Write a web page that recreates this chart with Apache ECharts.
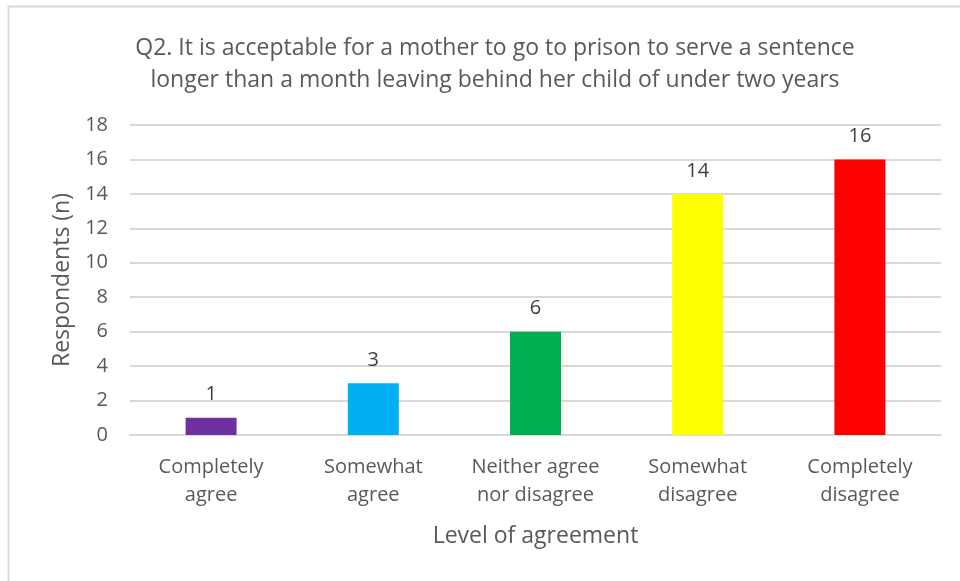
<!DOCTYPE html>
<html>
<head>
<meta charset="utf-8">
<script src="https://cdn.jsdelivr.net/npm/echarts@6/dist/echarts.min.js"></script>
<style>
  html, body { margin: 0; padding: 0; background: #fff; }
  #main { width: 960px; height: 581px; }
</style>
</head>
<body>
<div id="main"></div>
<script>
var chartDom = document.getElementById('main');
var myChart = echarts.init(chartDom);
var option;

// data
var categories = ['Completely\nagree', 'Somewhat\nagree', 'Neither agree\nnor disagree', 'Somewhat\ndisagree', 'Completely\ndisagree'];
var respondents = [1, 3, 6, 14, 16];
var barColors = ['#7030A0', '#00B0F0', '#00B050', '#FFFF00', '#FF0000'];

var textGray = '#595959';
var fontName = 'Open Sans';

option = {
    backgroundColor: '#fff',
    // light frame round the chart area
    graphic: [{
        type: 'rect',
        shape: { x: 8.5, y: 6.5, width: 1000, height: 1000 },
        style: { fill: 'none', stroke: '#d9d9d9', lineWidth: 2 },
        silent: true
    }],
    title: {
        text: 'Q2. It is acceptable for a mother to go to prison to serve a sentence\nlonger than a month leaving behind her child of under two years',
        left: 490,
        top: 27,
        textAlign: 'center',
        textStyle: {
            fontFamily: fontName,
            fontSize: 23,
            fontWeight: 'normal',
            color: textGray,
            lineHeight: 32
        }
    },
    grid: {
        left: 130,
        right: 19,
        top: 125,
        bottom: 146
    },
    xAxis: {
        type: 'category',
        data: categories,
        name: 'Level of agreement',
        nameLocation: 'middle',
        nameGap: 90,
        nameTextStyle: { fontFamily: fontName, fontSize: 23, color: textGray },
        axisLine: { show: true, lineStyle: { color: '#d9d9d9', width: 2 } },
        axisTick: { show: false },
        axisLabel: {
            fontFamily: fontName,
            fontSize: 20,
            color: textGray,
            lineHeight: 28,
            margin: 18,
            interval: 0
        }
    },
    yAxis: {
        type: 'value',
        min: 0,
        max: 18,
        interval: 2,
        name: 'Respondents (n)',
        nameLocation: 'middle',
        nameGap: 56,
        nameTextStyle: { fontFamily: fontName, fontSize: 23, color: textGray },
        axisLine: { show: false },
        axisTick: { show: false },
        axisLabel: { fontFamily: fontName, fontSize: 20, color: textGray, margin: 22 },
        splitLine: { lineStyle: { color: '#d9d9d9', width: 2 } }
    },
    series: [{
        type: 'bar',
        data: respondents.map((v, i) => ({ value: v, itemStyle: { color: barColors[i] } })),
        barWidth: 51,
        label: {
            show: true,
            position: 'top',
            distance: 13,
            fontFamily: fontName,
            fontSize: 20,
            color: '#404040'
        }
    }]
};

option && myChart.setOption(option);
</script>
</body>
</html>
